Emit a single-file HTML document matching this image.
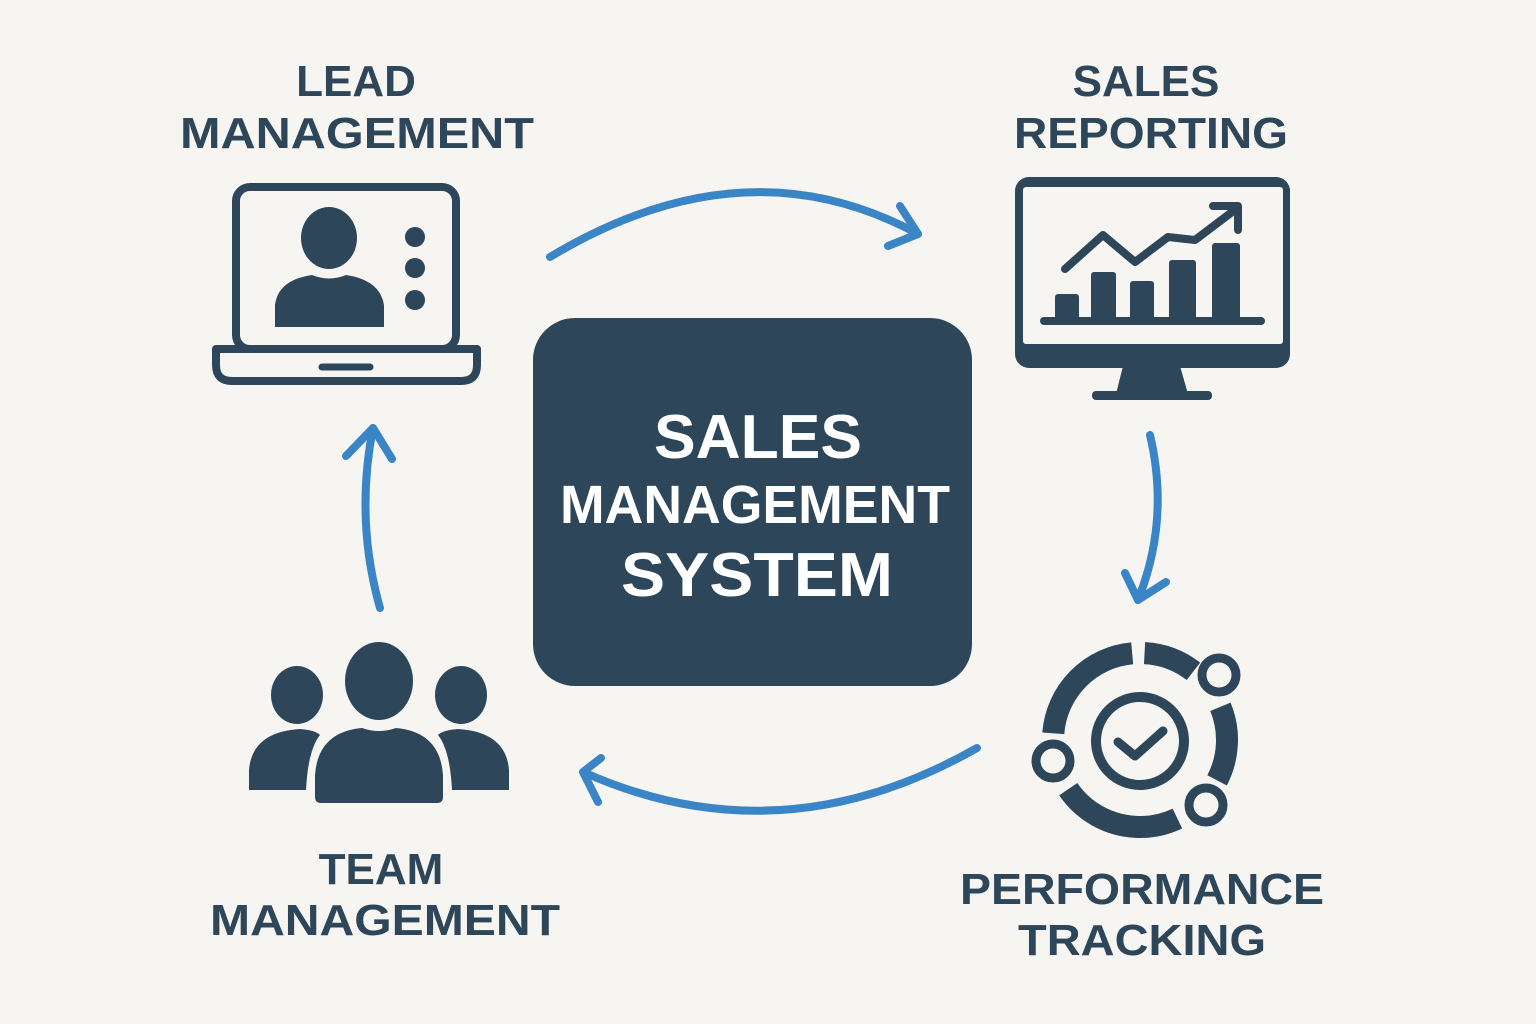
<!DOCTYPE html>
<html><head><meta charset="utf-8"><style>
html,body{margin:0;padding:0;background:#f7f5f1;}
svg{display:block}
text{font-family:"Liberation Sans",sans-serif;font-weight:bold;fill:#2e4659;text-anchor:middle}
</style></head><body>
<svg width="1536" height="1024" viewBox="0 0 1536 1024" xmlns="http://www.w3.org/2000/svg">
<rect width="1536" height="1024" fill="#f7f5f1"/>
<!-- labels -->
<text x="356" y="96" font-size="44">LEAD</text>
<text x="357" y="148" font-size="44" textLength="354" lengthAdjust="spacingAndGlyphs">MANAGEMENT</text>
<text x="1146" y="96" font-size="44">SALES</text>
<text x="1151" y="148" font-size="44" textLength="274" lengthAdjust="spacingAndGlyphs">REPORTING</text>
<text x="381" y="884" font-size="44">TEAM</text>
<text x="385" y="935" font-size="44" textLength="350" lengthAdjust="spacingAndGlyphs">MANAGEMENT</text>
<text x="1142" y="904" font-size="44" textLength="364" lengthAdjust="spacingAndGlyphs">PERFORMANCE</text>
<text x="1142" y="955" font-size="44" textLength="248" lengthAdjust="spacingAndGlyphs">TRACKING</text>
<!-- center box -->
<rect x="533" y="318" width="439" height="368" rx="42" fill="#2e4659"/>
<text x="758" y="458" font-size="62" style="fill:#fff" textLength="208" lengthAdjust="spacingAndGlyphs">SALES</text>
<text x="755" y="523" font-size="54" style="fill:#fff" textLength="390" lengthAdjust="spacingAndGlyphs">MANAGEMENT</text>
<text x="757" y="596" font-size="62" style="fill:#fff" textLength="272" lengthAdjust="spacingAndGlyphs">SYSTEM</text>
<!-- arrows -->
<g fill="none" stroke="#3a85c6" stroke-width="8" stroke-linecap="round" stroke-linejoin="round">
<path d="M550 257 Q745 140 918 234"/>
<path d="M900 206 L918 234 L888 246"/>
<path d="M1150 435 Q1170 520 1138 600"/>
<path d="M1125 573 L1138 600 L1166 582"/>
<path d="M977 748 Q780 860 583 772"/>
<path d="M601 758 L583 772 L598 802"/>
<path d="M380 608 Q355 520 373 428"/>
<path d="M346 456 L373 428 L392 459"/>
</g>
<!-- laptop -->
<g fill="#2e4659" stroke="#2e4659">
<rect x="236" y="187" width="220" height="162" rx="14" fill="none" stroke-width="8"/>
<path d="M216 349 H477 V365 Q477 381 461 381 H232 Q216 381 216 365 Z" fill="#f7f5f1" stroke-width="8" stroke-linejoin="round"/>
<line x1="322" y1="367" x2="370" y2="367" stroke-width="7" stroke-linecap="round"/>
<ellipse cx="329" cy="238" rx="28" ry="31" stroke="none"/>
<path d="M275 327 V305 Q278 280 312 275 Q329 282 346 275 Q380 280 384 305 V327 Z" stroke="none"/>
<circle cx="415" cy="237" r="10" stroke="none"/>
<circle cx="415" cy="268" r="10" stroke="none"/>
<circle cx="415" cy="300" r="10" stroke="none"/>
</g>
<!-- monitor -->
<g fill="#2e4659">
<rect x="1015" y="177" width="275" height="191" rx="14"/>
<rect x="1023" y="187" width="260" height="157" rx="3" fill="#f7f5f1"/>
<path d="M1123 366 H1180 L1188 394 H1116 Z"/>
<rect x="1092" y="391" width="120" height="9" rx="4"/>
<rect x="1055" y="294" width="24" height="27" rx="3"/>
<rect x="1091" y="272" width="25" height="49" rx="3"/>
<rect x="1130" y="281" width="24" height="40" rx="3"/>
<rect x="1169" y="260" width="27" height="61" rx="3"/>
<rect x="1212" y="243" width="28" height="78" rx="3"/>
<rect x="1040" y="317" width="225" height="8" rx="4"/>
<path d="M1065 269 L1103 235 L1135 262 L1168 237 L1195 240 L1236 209" fill="none" stroke="#2e4659" stroke-width="8" stroke-linecap="round" stroke-linejoin="round"/>
<path d="M1213 206 H1238 V230" fill="none" stroke="#2e4659" stroke-width="8" stroke-linecap="round" stroke-linejoin="round"/>
</g>
<!-- team -->
<g fill="#2e4659">
<ellipse cx="297" cy="695" rx="26" ry="29"/>
<ellipse cx="461" cy="695" rx="26" ry="29"/>
<path d="M249 790 V770 Q252 732 300 729 Q315 730 320 735 Q308 750 306 790 Z"/>
<path d="M509 790 V770 Q506 732 458 729 Q443 730 438 735 Q450 750 452 790 Z"/>
<ellipse cx="379" cy="681" rx="34" ry="39"/>
<path d="M315 797 V775 Q318 732 362 728 Q379 734 396 728 Q440 732 443 775 V797 Q443 803 437 803 H321 Q315 803 315 797 Z"/>
</g>
<!-- performance -->
<g fill="none" stroke="#2e4659">
<circle cx="1140" cy="740" r="87" stroke-width="22" stroke-dasharray="53 45 76 56 123 59 122 13" transform="rotate(-87 1140 740)"/>
<circle cx="1140" cy="741" r="44" stroke-width="10"/>
<path d="M1118 742 L1135 756 L1163 731" stroke-width="9" stroke-linecap="round" stroke-linejoin="round"/>
</g>
<g fill="#f7f5f1" stroke="#2e4659" stroke-width="9">
<circle cx="1219" cy="675" r="17"/>
<circle cx="1053" cy="761" r="17"/>
<circle cx="1206" cy="805" r="17"/>
</g>
</svg>
</body></html>
